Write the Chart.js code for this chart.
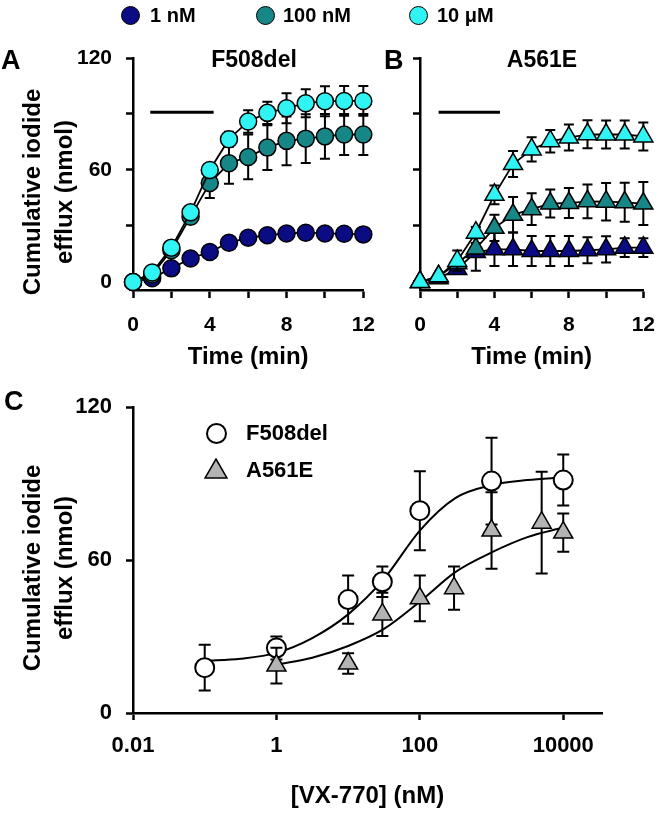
<!DOCTYPE html>
<html>
<head>
<meta charset="utf-8">
<title>VX-770 iodide efflux</title>
<script src="https://cdn.jsdelivr.net/npm/chart.js@4.4.1/dist/chart.umd.min.js"></script>
<style>
  html, body { margin: 0; padding: 0; background: #fff; }
  #fig { position: relative; width: 670px; height: 816px; overflow: hidden;
         font-family: "Liberation Sans", Arial, sans-serif; font-weight: bold; color: #000; }
  #fig canvas { position: absolute; }
  .t { position: absolute; white-space: nowrap; line-height: 1; }
  .dot { position: absolute; width: 19px; height: 19px; border: 1.5px solid #000; border-radius: 50%; box-sizing: border-box; }
  .ytitle { position: absolute; width: 280px; height: 64px; line-height: 32px; font-size: 24px;
            text-align: center; transform: rotate(-90deg); }
</style>
</head>
<body>
<div id="fig">
  <canvas id="chartA" width="390" height="380" style="left:0;top:0"></canvas>
  <canvas id="chartB" width="280" height="380" style="left:390px;top:0"></canvas>
  <canvas id="chartC" width="670" height="436" style="left:0;top:380px"></canvas>

  <!-- legend for A and B -->
  <div class="dot" style="left:121px;top:6px;background:#0b0b84"></div>
  <div class="t" style="left:150px;top:5px;font-size:20px">1 nM</div>
  <div class="dot" style="left:256px;top:6px;background:#168686"></div>
  <div class="t" style="left:283px;top:5px;font-size:20px">100 nM</div>
  <div class="dot" style="left:409px;top:6px;background:#30f4f4"></div>
  <div class="t" style="left:437px;top:5px;font-size:20px">10 μM</div>

  <div class="t" style="left:1px;top:47px;font-size:27px">A</div>
  <div class="t" style="left:384px;top:47px;font-size:27px">B</div>
  <div class="t" style="left:4px;top:388px;font-size:27px">C</div>

  <div class="t" style="left:154px;width:200px;text-align:center;top:48px;font-size:23px">F508del</div>
  <div class="t" style="left:442px;width:200px;text-align:center;top:48px;font-size:23px">A561E</div>

  <div class="ytitle" style="left:-92px;top:160px">Cumulative iodide<br>efflux (nmol)</div>
  <div class="ytitle" style="left:-92px;top:536px">Cumulative iodide<br>efflux (nmol)</div>

  <!-- legend for C -->
  <div class="dot" style="left:206px;top:423px;width:21px;height:21px;border-width:2px;background:#fff"></div>
  <div class="t" style="left:246px;top:422px;font-size:22px">F508del</div>
  <svg style="position:absolute;left:204px;top:458px" width="24" height="22">
    <polygon points="12,1 23,20 1,20" fill="#b3b3b3" stroke="#000" stroke-width="1.5"/>
  </svg>
  <div class="t" style="left:246px;top:459px;font-size:22px">A561E</div>
</div>

<script>
var FONT = '"Liberation Sans", Arial, sans-serif';
Chart.defaults.font.family = FONT;
Chart.defaults.font.weight = 'bold';
Chart.defaults.color = '#000';

// time course, minutes
var time = [0, 1, 2, 3, 4, 5, 6, 7, 8, 9, 10, 11, 12];

// A: F508del
var f508_1nM = [0, 2, 7.3, 12.6, 16.1, 21, 23.7, 25, 26, 26.4, 26, 25.8, 25.5];
var f508_1nM_err = [0, 0.5, 1, 1, 1, 1, 1.5, 1.5, 1.5, 1.5, 1.5, 1.5, 1.5];
var f508_100nM = [0, 4, 17, 35, 53, 63.6, 67, 72, 75.6, 76.8, 78, 79, 79];
var f508_100nM_err = [0, 1, 2, 3, 8, 11, 12, 12, 13, 13, 12, 11, 11];
var f508_10uM = [0, 5.1, 18.4, 37.3, 60, 76.5, 86, 90.6, 93.1, 95.8, 96.8, 97, 97];
var f508_10uM_err = [0, 1, 1.5, 2, 3, 4, 6, 6, 8, 7.5, 8, 8, 8];

// B: A561E
var a561_1nM = [0, 2, 7, 16, 17.5, 17.5, 16.6, 16.6, 16.6, 17, 17.5, 18.4, 18.4];
var a561_1nM_err = [0, 0, 1, 10, 9, 9, 8, 8, 8, 7, 7, 5, 5];
var a561_100nM = [0, 3, 10, 17.9, 29, 36, 39, 42, 42.3, 43.2, 43, 42.7, 42];
var a561_100nM_err = [0, 0, 1, 3, 7, 9.5, 8.5, 7.5, 8, 9, 10, 10.5, 11.5];
var a561_10uM = [0, 3, 11.3, 26.4, 46.7, 63.2, 71, 75.4, 77.4, 79.1, 79, 79, 78];
var a561_10uM_err = [0, 0.5, 5.5, 3, 5, 7, 6.5, 6, 7, 7.5, 7.5, 7.5, 7.5];

// horizontal bar (minutes) and its level
var barA = [0.9, 4.2];
var barB = [1.0, 4.3];
var barLevel = 91;

// C: concentration response, nM
var doseF = [0.1, 1, 10, 30, 100, 1000, 10000];
var effluxF = [17.8, 25.5, 44.5, 51.5, 79.4, 91, 91.4];
var errF = [9, 4.5, 9.5, 6, 15.5, 17, 10];
var doseA = [1, 10, 30, 100, 300, 1000, 5000, 10000];
var effluxA = [18.6, 19.4, 38.7, 45, 49, 71.6, 74.7, 70.8];
var errA = [7, 4, 8.5, 9, 8.5, 15, 20, 7.5];

// fitted curves
var fitDoseF = [0.1, 0.316, 1, 3.16, 10, 31.6, 100, 316, 1000, 3162, 10000];
var fitF = [20.5, 21.3, 23.6, 29.4, 38.7, 52.6, 71.6, 84.4, 89.4, 91.4, 92.5];
var fitDoseA = [1, 3.16, 10, 31.6, 100, 316, 1000, 3162, 10000];
var fitA = [19, 21.7, 26.3, 33, 43.7, 55.4, 63, 69, 72.8];

var yTicks = [0, 30, 60, 90, 120];
var xTimeTicks = [0, 2, 4, 6, 8, 10, 12];
var doseTicks = [0.01, 1, 100, 10000];

var navy = '#0b0b84', teal = '#168686', cyan = '#30f4f4', grey = '#b3b3b3';

function pts(xs, ys) {
	return xs.map(function (x, i) { return {x: x, y: ys[i]}; });
}

// draws mean +/- error before each dataset is drawn
var errorBars = {
	id: 'errorBars',
	beforeDatasetDraw: function (chart, args) {
		var ds = chart.data.datasets[args.index];
		if (!ds.errors) return;
		var xs = chart.scales.x, ys = chart.scales.y, ctx = chart.ctx;
		var cap = ds.capWidth || 5;
		ctx.save();
		ctx.strokeStyle = '#000';
		ctx.lineWidth = 2;
		ds.data.forEach(function (p, i) {
			var e = ds.errors[i];
			if (!e) return;
			var x = xs.getPixelForValue(p.x);
			var y1 = ys.getPixelForValue(p.y + e);
			var y2 = ys.getPixelForValue(p.y - e);
			ctx.beginPath();
			ctx.moveTo(x, y1); ctx.lineTo(x, y2);
			ctx.moveTo(x - cap, y1); ctx.lineTo(x + cap, y1);
			ctx.moveTo(x - cap, y2); ctx.lineTo(x + cap, y2);
			ctx.stroke();
		});
		ctx.restore();
	}
};

function series(ys, errs, color, style, radius) {
	return {
		data: pts(time, ys),
		errors: errs,
		capWidth: 5,
		showLine: true,
		borderColor: '#000',
		borderWidth: 1.8,
		pointStyle: style,
		pointRadius: radius,
		pointBackgroundColor: color,
		pointBorderColor: '#000',
		pointBorderWidth: 1.5,
		clip: false
	};
}

function bar(range) {
	return {
		data: [{x: range[0], y: barLevel}, {x: range[1], y: barLevel}],
		showLine: true,
		borderColor: '#000',
		borderWidth: 3,
		pointRadius: 0
	};
}

function axisGrid(len) {
	return {drawOnChartArea: false, tickLength: len, tickWidth: 2.5, tickColor: '#000'};
}

function timeOptions(showY, yWidth, padRight) {
	return {
		responsive: false,
		animation: false,
		devicePixelRatio: 1,
		layout: {padding: {top: 58, right: padRight, bottom: 0, left: 0}},
		plugins: {legend: {display: false}, tooltip: {enabled: false}},
		scales: {
			x: {
				type: 'linear', min: 0, max: 12,
				afterBuildTicks: function (s) { s.ticks = xTimeTicks.map(function (v) { return {value: v}; }); },
				afterFit: function (s) { s.height = 90; },
				ticks: {
					autoSkip: false, maxRotation: 0, padding: 15, color: '#000',
					font: {size: 21, weight: 'bold'},
					callback: function (v) { return v % 4 === 0 ? String(v) : ''; }
				},
				grid: axisGrid(8),
				border: {color: '#000', width: 2.5},
				title: {display: true, text: 'Time (min)', color: '#000',
					font: {size: 24, weight: 'bold'}, padding: {top: 0, bottom: 8}}
			},
			y: {
				min: -4.3, max: 120,
				afterBuildTicks: function (s) { s.ticks = yTicks.map(function (v) { return {value: v}; }); },
				afterFit: function (s) { s.width = yWidth; },
				ticks: {
					autoSkip: false, padding: 14, color: '#000',
					font: {size: 21, weight: 'bold'},
					callback: function (v) { return showY && v % 60 === 0 ? String(v) : ''; }
				},
				grid: axisGrid(7),
				border: {color: '#000', width: 2.5}
			}
		}
	};
}

new Chart(document.getElementById('chartA'), {
	type: 'scatter',
	data: {
		datasets: [
			series(f508_10uM, f508_10uM_err, cyan, 'circle', 8.5),
			series(f508_100nM, f508_100nM_err, teal, 'circle', 8.5),
			series(f508_1nM, f508_1nM_err, navy, 'circle', 8.5),
			bar(barA)
		]
	},
	options: timeOptions(true, 133, 24),
	plugins: [errorBars]
});

new Chart(document.getElementById('chartB'), {
	type: 'scatter',
	data: {
		datasets: [
			series(a561_10uM, a561_10uM_err, cyan, 'triangle', 11),
			series(a561_100nM, a561_100nM_err, teal, 'triangle', 11),
			series(a561_1nM, a561_1nM_err, navy, 'triangle', 11),
			bar(barB)
		]
	},
	options: timeOptions(false, 30, 15),
	plugins: [errorBars]
});

new Chart(document.getElementById('chartC'), {
	type: 'scatter',
	data: {
		datasets: [
			{
				data: pts(doseA, effluxA), errors: errA, capWidth: 6,
				pointStyle: 'triangle', pointRadius: 11,
				pointBackgroundColor: grey, pointBorderColor: '#000', pointBorderWidth: 1.5,
				clip: false
			},
			{
				data: pts(doseF, effluxF), errors: errF, capWidth: 6,
				pointStyle: 'circle', pointRadius: 9.5,
				pointBackgroundColor: '#fff', pointBorderColor: '#000', pointBorderWidth: 2,
				clip: false
			},
			{
				data: pts(fitDoseF, fitF), showLine: true, pointRadius: 0,
				borderColor: '#000', borderWidth: 2, cubicInterpolationMode: 'monotone'
			},
			{
				data: pts(fitDoseA, fitA), showLine: true, pointRadius: 0,
				borderColor: '#000', borderWidth: 2, cubicInterpolationMode: 'monotone'
			}
		]
	},
	options: {
		responsive: false,
		animation: false,
		devicePixelRatio: 1,
		layout: {padding: {top: 22, right: 68, bottom: 0, left: 0}},
		plugins: {legend: {display: false}, tooltip: {enabled: false}},
		scales: {
			x: {
				type: 'logarithmic', min: 0.01, max: 34700,
				afterBuildTicks: function (s) { s.ticks = doseTicks.map(function (v) { return {value: v}; }); },
				afterFit: function (s) { s.height = 103; },
				ticks: {
					autoSkip: false, maxRotation: 0, padding: 13, color: '#000',
					font: {size: 22, weight: 'bold'},
					callback: function (v) { return v < 1 ? '0.01' : String(v); }
				},
				grid: axisGrid(7),
				border: {color: '#000', width: 2.5},
				title: {display: true, text: '[VX-770] (nM)', color: '#000',
					font: {size: 24, weight: 'bold'}, padding: {top: 0, bottom: 5}}
			},
			y: {
				min: 0, max: 120,
				afterBuildTicks: function (s) { s.ticks = [0, 60, 120].map(function (v) { return {value: v}; }); },
				afterFit: function (s) { s.width = 133; },
				ticks: {
					autoSkip: false, padding: 14, color: '#000',
					font: {size: 22, weight: 'bold'}
				},
				grid: axisGrid(7),
				border: {color: '#000', width: 2.5}
			}
		}
	},
	plugins: [errorBars]
});
</script>
</body>
</html>
